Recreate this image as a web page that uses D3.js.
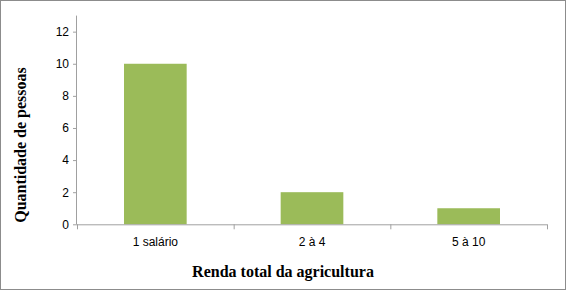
<!DOCTYPE html>
<html><head><meta charset="utf-8">
<script src="https://cdn.jsdelivr.net/npm/d3@7"></script>
<style>body{margin:0;background:#fff}svg{display:block}</style>
</head><body>
<script>
const categories = ["1 salário", "2 à 4", "5 à 10"];
const values = [10, 2, 1];
const yTicks = [0, 2, 4, 6, 8, 10, 12];
const yTitle = "Quantidade de pessoas";
const xTitle = "Renda total da agricultura";

const W = 566, H = 291;
const svg = d3.select("body").append("svg").attr("width", W).attr("height", H);
svg.append("rect").attr("x", 0.5).attr("y", 0.5).attr("width", W - 1).attr("height", H - 2)
  .attr("fill", "#fff").attr("stroke", "#8c8c8c").attr("stroke-width", 1);

const m = {left: 77, right: 547, top: 15.6, bottom: 224.3};
const x = d3.scaleBand().domain(categories).range([m.left, m.right]).paddingInner(0.6).paddingOuter(0.3);
const y = d3.scaleLinear().domain([0, 13]).range([m.bottom, m.top]);

// bars
svg.selectAll("rect.bar").data(values).join("rect").attr("class", "bar")
  .attr("x", (d, i) => x(categories[i]))
  .attr("width", x.bandwidth())
  .attr("y", d => y(d))
  .attr("height", d => y(0) - y(d))
  .attr("fill", "#9bbb59");

// y axis
const yAxis = svg.append("g").attr("transform", `translate(${m.left},0)`)
  .call(d3.axisLeft(y).tickValues(yTicks).tickSize(4).tickPadding(4));
yAxis.select(".domain").attr("stroke", "#a0a0a0").attr("d", `M-0.5,${m.top}V${m.bottom}`);
yAxis.selectAll(".tick line").attr("stroke", "#a0a0a0");
yAxis.selectAll("text").attr("font-family", "Liberation Sans, Arial, sans-serif").attr("font-size", 12).attr("fill", "#000");

// x axis
const step = x.step();
const bounds = [m.left, m.left + (m.right - m.left) / 3, m.left + 2 * (m.right - m.left) / 3, m.right];
const xg = svg.append("g");
xg.append("line").attr("x1", m.left).attr("x2", m.right).attr("y1", y(0) + 0.5).attr("y2", y(0) + 0.5).attr("stroke", "#a0a0a0");
xg.selectAll("line.t").data(bounds).join("line").attr("class", "t")
  .attr("x1", d => d + 0.5).attr("x2", d => d + 0.5).attr("y1", y(0)).attr("y2", y(0) + 5).attr("stroke", "#a0a0a0");
xg.selectAll("text").data(categories).join("text")
  .attr("x", d => x(d) + x.bandwidth() / 2).attr("y", 246)
  .attr("text-anchor", "middle")
  .attr("font-family", "Liberation Sans, Arial, sans-serif").attr("font-size", 12).attr("fill", "#000")
  .text(d => d);

// titles
svg.append("text").attr("x", 283).attr("y", 277).attr("text-anchor", "middle")
  .attr("font-family", "Liberation Serif, Times New Roman, serif").attr("font-weight", "bold").attr("font-size", 16)
  .text(xTitle);
svg.append("text").attr("transform", "translate(26,145) rotate(-90)").attr("text-anchor", "middle")
  .attr("font-family", "Liberation Serif, Times New Roman, serif").attr("font-weight", "bold").attr("font-size", 16)
  .text(yTitle);
</script>
</body></html>
